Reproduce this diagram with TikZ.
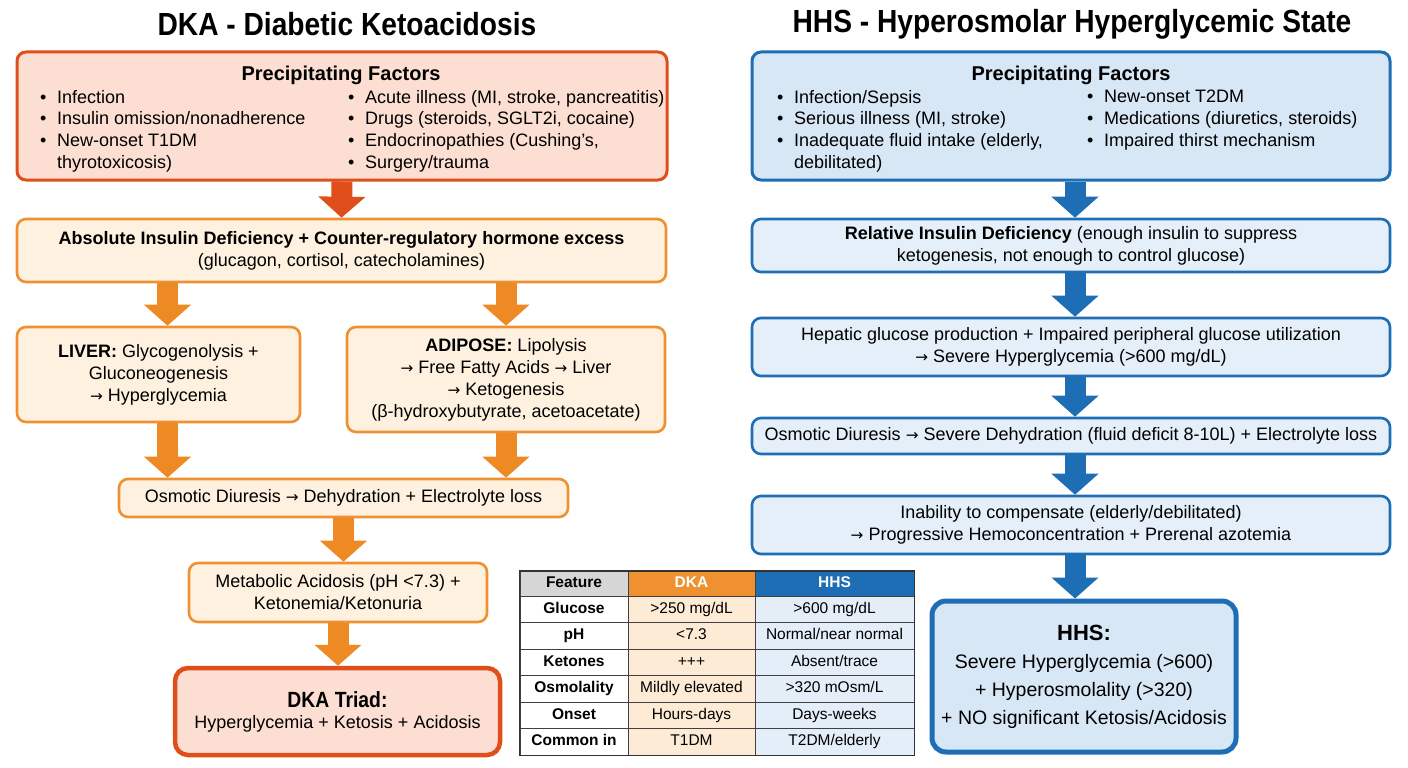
\documentclass[tikz,border=0pt]{standalone}
\usepackage{fontspec}
\setmainfont{Liberation Sans}
\newfontfamily\headfont[FakeStretch=0.88]{Liberation Sans}
\newfontfamily\arrowfont[Scale=0.85]{DejaVu Sans}
\usetikzlibrary{arrows.meta,positioning}

\definecolor{dkared}{HTML}{E04E1B}
\definecolor{dkasalmon}{HTML}{FCDFD2}
\definecolor{dkaorange}{HTML}{EF9130}
\definecolor{dkapeach}{HTML}{FEF1E0}
\definecolor{dkaarrow}{HTML}{EE8A24}
\definecolor{hhsblue}{HTML}{1E6EB6}
\definecolor{hhspale}{HTML}{D8E7F5}
\definecolor{hhsfill}{HTML}{E4EFF9}
\definecolor{tabgray}{HTML}{D6D6D6}
\definecolor{tabpeach}{HTML}{FDEBD6}
\definecolor{tabblue}{HTML}{E3EEF8}

\newcommand{\bul}{\makebox[17pt][l]{\textbullet}}
\newcommand{\ra}{{\arrowfont →}}

\tikzset{
  stepbox/.style={draw, rounded corners=9pt, line width=2.6pt, align=center,
    inner sep=3pt, font=\fontsize{18}{22}\selectfont},
  dkapf/.style={stepbox, draw=dkared, fill=dkasalmon, line width=3pt},
  dkastep/.style={stepbox, draw=dkaorange, fill=dkapeach},
  hhspf/.style={stepbox, draw=hhsblue, fill=hhspale, line width=3pt},
  hhsstep/.style={stepbox, draw=hhsblue, fill=hhsfill},
  listtext/.style={anchor=north west, inner sep=0pt, align=left,
    font=\fontsize{18}{21.7}\selectfont},
  pftitle/.style={inner sep=0pt, font=\fontsize{20}{22}\selectfont\bfseries},
  bigtitle/.style={inner sep=0pt, font=\headfont\fontsize{32}{36}\selectfont\bfseries},
  flow/.style={line width=21pt, -{Triangle[width=46pt,length=21pt]}},
  cell/.style={draw=black!75, line width=1pt, inner sep=0pt,
    text height=11.5pt, text depth=3.5pt, font=\fontsize{15.5}{18}\selectfont}
}

\begin{document}
\begin{tikzpicture}[x=1pt,y=-1pt]
\useasboundingbox[fill=white] (0,0) rectangle (1408,768);

% ---- DKA side
\node[bigtitle] (dkatitle) at (347,24) {DKA - Diabetic Ketoacidosis};

\node[dkapf, minimum width=650pt, minimum height=128pt] (dkaPF) at (342,116) {};
\node[pftitle] (dkaPFt) at (341,75) {Precipitating Factors};
\node[listtext] (dkaPFl) at (40,90) {\bul Infection\\
  \bul Insulin omission/nonadherence\\
  \bul New-onset T1DM\\
  \hspace*{17pt}thyrotoxicosis)};
\node[listtext] (dkaPFr) at (348,90) {\bul Acute illness (MI, stroke, pancreatitis)\\
  \bul Drugs (steroids, SGLT2i, cocaine)\\
  \bul Endocrinopathies (Cushing's,\\
  \bul Surgery/trauma};

\node[dkastep, minimum width=649pt, minimum height=63pt] (dkaMech) at (341.5,250.5)
  {{\bfseries Absolute Insulin Deficiency + Counter-regulatory hormone excess}\\
   (glucagon, cortisol, catecholamines)};

\node[dkastep, minimum width=283pt, minimum height=95pt] (liver) at (158.5,374.5)
  {{\bfseries LIVER:} Glycogenolysis +\\Gluconeogenesis\\\ra\ Hyperglycemia};
\node[dkastep, minimum width=318pt, minimum height=105pt] (adipose) at (506,379.5)
  {{\bfseries ADIPOSE:} Lipolysis\\\ra\ Free Fatty Acids \ra\ Liver\\\ra\ Ketogenesis\\
   (β-hydroxybutyrate, acetoacetate)};

\node[dkastep, minimum width=449pt, minimum height=38pt] (dkaOsm) at (343.5,498)
  {Osmotic Diuresis \ra\ Dehydration + Electrolyte loss};
\node[dkastep, minimum width=298pt, minimum height=59pt] (acid) at (338,592.5)
  {Metabolic Acidosis (pH <7.3) +\\Ketonemia/Ketonuria};
\node[dkapf, line width=4.5pt, rounded corners=13pt, minimum width=325pt,
  minimum height=87pt, font=\fontsize{18}{21}\selectfont] (triad) at (337.5,711.5)
  {{\headfont\fontsize{22}{21}\selectfont\bfseries DKA Triad:}\\
   Hyperglycemia + Ketosis + Acidosis};

\draw[flow, draw=dkared] (dkaPF.south) -- (dkaMech.north);
\draw[flow, draw=dkaarrow] (dkaMech.south -| liver.north) ++(9,0) coordinate (lv)
  (lv) -- (lv |- liver.north);
\draw[flow, draw=dkaarrow] (dkaMech.south -| adipose.north) -- (adipose.north);
\draw[flow, draw=dkaarrow] (liver.south) ++(9,0) coordinate (lvs)
  (lvs) -- (lvs |- dkaOsm.north);
\draw[flow, draw=dkaarrow] (adipose.south) -- (adipose.south |- dkaOsm.north);
\draw[flow, draw=dkaarrow] (dkaOsm.south) -- (dkaOsm.south |- acid.north);
\draw[flow, draw=dkaarrow] (acid.south) -- (acid.south |- triad.north);

% ---- HHS side
\node[bigtitle] (hhstitle) at (1072,24) {HHS - Hyperosmolar Hyperglycemic State};

\node[hhspf, minimum width=638pt, minimum height=128pt] (hhsPF) at (1071,116) {};
\node[pftitle] (hhsPFt) at (1071,75) {Precipitating Factors};
\node[listtext] (hhsPFl) at (777,90) {\bul Infection/Sepsis\\
  \bul Serious illness (MI, stroke)\\
  \bul Inadequate fluid intake (elderly,\\
  \hspace*{17pt}debilitated)};
\node[listtext] (hhsPFr) at (1087,90) {\bul New-onset T2DM\\
  \bul Medications (diuretics, steroids)\\
  \bul Impaired thirst mechanism};

\node[hhsstep, minimum width=638pt, minimum height=53pt] (hhsMech) at (1071,245.5)
  {{\bfseries Relative Insulin Deficiency} (enough insulin to suppress\\
   ketogenesis, not enough to control glucose)};
\node[hhsstep, minimum width=638pt, minimum height=58pt] (hhsGlu) at (1071,347)
  {Hepatic glucose production + Impaired peripheral glucose utilization\\
   \ra\ Severe Hyperglycemia (>600 mg/dL)};
\node[hhsstep, minimum width=638pt, minimum height=36pt] (hhsOsm) at (1071,436)
  {Osmotic Diuresis \ra\ Severe Dehydration (fluid deficit 8-10L) + Electrolyte loss};
\node[hhsstep, minimum width=638pt, minimum height=58pt] (hhsComp) at (1071,525)
  {Inability to compensate (elderly/debilitated)\\
   \ra\ Progressive Hemoconcentration + Prerenal azotemia};
\node[hhspf, line width=5pt, rounded corners=14pt, minimum width=304pt,
  minimum height=151pt, font=\fontsize{19.5}{28}\selectfont] (hhsRes) at (1084,676.5)
  {{\fontsize{22}{28}\selectfont\bfseries HHS:}\\
   Severe Hyperglycemia (>600)\\
   + Hyperosmolality (>320)\\
   + NO significant Ketosis/Acidosis};

\draw[flow, draw=hhsblue] (hhsPF.south) ++(4,0) coordinate (h1) (h1) -- (h1 |- hhsMech.north);
\draw[flow, draw=hhsblue] (hhsMech.south) ++(4,0) coordinate (h2) (h2) -- (h2 |- hhsGlu.north);
\draw[flow, draw=hhsblue] (hhsGlu.south) ++(4,0) coordinate (h3) (h3) -- (h3 |- hhsOsm.north);
\draw[flow, draw=hhsblue] (hhsOsm.south) ++(4,0) coordinate (h4) (h4) -- (h4 |- hhsComp.north);
\draw[flow, draw=hhsblue] (hhsComp.south) ++(4,0) coordinate (h5) (h5) -- (h5 |- hhsRes.north);

% ---- comparison table
\node[cell, fill=tabgray, minimum width=108pt, minimum height=24.5pt, font=\fontsize{15.5}{18}\selectfont\bfseries]
  (feat0) at (574,583.75) {Feature};
\node[cell, fill=dkaorange, text=white, minimum width=127pt, minimum height=24.5pt, font=\fontsize{15.5}{18}\selectfont\bfseries]
  (dka0) at (691.5,583.75) {DKA};
\node[cell, fill=hhsblue, text=white, minimum width=159pt, minimum height=24.5pt, font=\fontsize{15.5}{18}\selectfont\bfseries]
  (hhs0) at (834.5,583.75) {HHS};
\foreach \lab/\dk/\hh [count=\r] in {Glucose/{>250 mg/dL}/{>600 mg/dL},
    pH/{<7.3}/{Normal/near normal}, Ketones/{+++}/{Absent/trace},
    Osmolality/{Mildly elevated}/{>320 mOsm/L}, Onset/{Hours-days}/{Days-weeks},
    {Common in}/{T1DM}/{T2DM/elderly}} {
  \node[cell, fill=white, minimum width=108pt, minimum height=26.5pt, font=\fontsize{15.5}{18}\selectfont\bfseries]
    (feat\r) at (574,{596+(\r-0.5)*26.5}) {\lab};
  \node[cell, fill=tabpeach, minimum width=127pt, minimum height=26.5pt]
    (dka\r) at (691.5,{596+(\r-0.5)*26.5}) {\dk};
  \node[cell, fill=tabblue, minimum width=159pt, minimum height=26.5pt]
    (hhs\r) at (834.5,{596+(\r-0.5)*26.5}) {\hh};
}
\draw[black!80, line width=1.8pt] (feat0.north west) rectangle (hhs6.south east);
\end{tikzpicture}
\end{document}
